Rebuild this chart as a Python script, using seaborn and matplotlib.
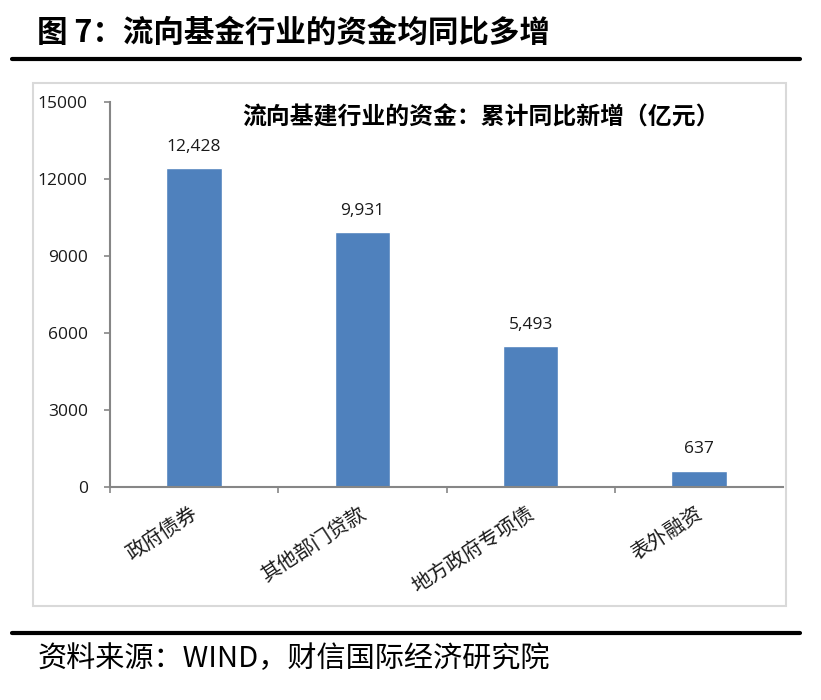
import matplotlib
matplotlib.use('Agg')
import matplotlib.pyplot as plt
import seaborn as sns
import pandas as pd
from matplotlib.patches import Rectangle
from matplotlib.lines import Line2D
from matplotlib.transforms import ScaledTranslation

# ---- data ----
categories = ['政府债券', '其他部门贷款', '地方政府专项债', '表外融资']
values = [12428, 9931, 5493, 637]
value_labels = ['12,428', '9,931', '5,493', '637']
yticks = [0, 3000, 6000, 9000, 12000, 15000]
fig_title = '图 7：流向基金行业的资金均同比多增'
chart_title = '流向基建行业的资金：累计同比新增（亿元）'
source_text = '资料来源：WIND，财信国际经济研究院'

sns.set_theme(style='white')
plt.rcParams['font.family'] = ['Noto Sans CJK SC', 'DejaVu Sans']

W, H = 821, 700
fig = plt.figure(figsize=(W / 100, H / 100), dpi=100)
fig.patch.set_facecolor('white')

ax = fig.add_axes([110 / W, 1 - 487 / H, (783 - 110) / W, (487 - 102) / H])
df = pd.DataFrame({'cat': categories, 'val': values})
sns.barplot(data=df, x='cat', y='val', color='#4F81BD', saturation=1,
            width=0.33, ax=ax)

ax.set_ylim(0, 15000)
ax.set_xlim(-0.5, len(categories) - 0.5)
ax.set_yticks(yticks)
ax.set_yticklabels([str(v) for v in yticks], fontfamily='Open Sans',
                   fontsize=12.5, color='#1a1a1a')
ax.set_xlabel('')
ax.set_ylabel('')

for s in ['top', 'right']:
    ax.spines[s].set_visible(False)
for s in ['left', 'bottom']:
    ax.spines[s].set_color('#868686')
    ax.spines[s].set_linewidth(1.5)

ax.tick_params(axis='y', which='major', direction='out', length=4,
               width=1.2, color='#868686', pad=12, left=True)
ax.set_xticks([i - 0.5 for i in range(len(categories))], minor=True)
ax.tick_params(axis='x', which='minor', direction='out', length=4,
               width=1.2, color='#868686', bottom=True)
ax.tick_params(axis='x', which='major', length=0, pad=18)
for lbl in ax.get_xticklabels():
    lbl.set_rotation(33)
    lbl.set_ha('right')
    lbl.set_va('center')
    lbl.set_rotation_mode('anchor')
    lbl.set_fontsize(14.5)
    lbl.set_fontweight('light')
    lbl.set_color('#1a1a1a')
    lbl.set_transform(lbl.get_transform() +
                      ScaledTranslation(1.5 / 72, 0, fig.dpi_scale_trans))

ax.grid(False)
ax.set_facecolor('white')

for i, (v, t) in enumerate(zip(values, value_labels)):
    ax.annotate(t, xy=(i, v), xytext=(0, 12.5), textcoords='offset points',
                ha='center', va='baseline', fontfamily='Open Sans',
                fontsize=12.5, color='#1a1a1a')

fig.text(481 / W, 1 - 118 / H, chart_title, ha='center', va='center',
         fontsize=17.2, fontweight='bold', color='black')

# chart border
fig.add_artist(Rectangle((33 / W, 1 - 606 / H), (786 - 33) / W, (606 - 83) / H,
                         transform=fig.transFigure, fill=False,
                         edgecolor='#d9d9d9', linewidth=1.5))

# heading and rules
fig.text(37 / W, 1 - 33 / H, fig_title, ha='left', va='center',
         fontsize=22, fontweight='bold', color='black')
fig.add_artist(Line2D([12 / W, 800 / W], [1 - 59 / H] * 2,
                      transform=fig.transFigure, color='black', linewidth=3))
fig.add_artist(Line2D([12 / W, 800 / W], [1 - 633 / H] * 2,
                      transform=fig.transFigure, color='black', linewidth=3))
fig.text(38 / W, 1 - 659 / H, source_text, ha='left', va='center',
         fontsize=21, color='black')

fig.savefig('out.png', dpi=100, facecolor='white')
